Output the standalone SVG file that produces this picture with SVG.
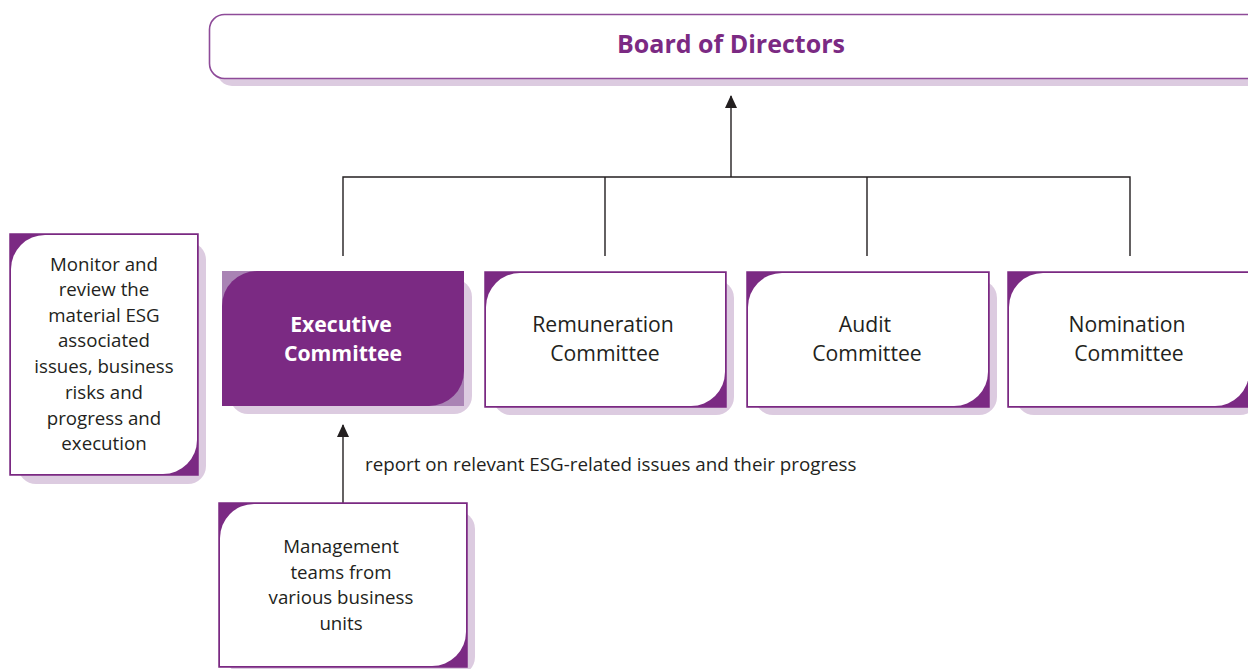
<svg xmlns="http://www.w3.org/2000/svg" width="1248" height="669" viewBox="0 0 1248 669">
  <style>
    .shadow { fill: #dccbe0; }
    .frame { fill: #7b2a83; stroke: #7b2a83; stroke-width: 1.5; }
    .card { fill: #ffffff; }
    .label { font-family: "Open Sans", "Liberation Sans", sans-serif; font-size: 21.2px; fill: #231f20; text-anchor: middle; }
    .note { font-family: "Open Sans", "Liberation Sans", sans-serif; font-size: 18.7px; fill: #231f20; text-anchor: middle; }
    .wire { fill: none; stroke: #231f20; stroke-width: 1.4; }
  </style>
  <defs>
    <marker id="arrow" viewBox="0 0 13 12" refX="12" refY="6" markerWidth="13" markerHeight="12" markerUnits="userSpaceOnUse" orient="auto">
      <path d="M0,0 L13,6 L0,12 Z" fill="#231f20"/>
    </marker>
  </defs>
  <rect width="1248" height="669" fill="#ffffff"/>

  <!-- Board of Directors -->
  <g id="board">
    <rect class="shadow" x="217" y="22" width="1060" height="64" rx="15"/>
    <rect x="209.5" y="14.5" width="1052" height="64" rx="15" fill="#ffffff" stroke="#8e4b99" stroke-width="1.6"/>
    <text x="731" y="53" font-family="Open Sans, Liberation Sans, sans-serif" font-size="25px" font-weight="bold" fill="#7b2a83" text-anchor="middle">Board of Directors</text>
  </g>

  <!-- connectors -->
  <g id="connectors">
    <path class="wire" d="M731,177 V96" marker-end="url(#arrow)"/>
    <path class="wire" d="M343,256 V177 H1130 V256 M605,177 V256 M867,177 V256"/>
    <path class="wire" d="M343,503 V425" marker-end="url(#arrow)"/>
    <text x="365" y="471" font-family="Open Sans, Liberation Sans, sans-serif" font-size="18.8px" fill="#231f20">report on relevant ESG-related issues and their progress</text>
  </g>

  <!-- Executive Committee -->
  <g id="executive">
    <rect class="shadow" x="230" y="279" width="242" height="135" rx="18"/>
    <rect x="222" y="271" width="242" height="135" fill="#a983b4"/>
    <path d="M257,271 H464 V371 A35,35 0 0 1 429,406 H222 V306 A35,35 0 0 1 257,271 Z" fill="#7b2a83"/>
    <text class="label" x="341" y="332" font-weight="bold" style="fill:#ffffff">Executive</text>
    <text class="label" x="343" y="361" font-weight="bold" style="fill:#ffffff">Committee</text>
  </g>

  <!-- Remuneration Committee -->
  <g id="remuneration">
    <rect class="shadow" x="493" y="280" width="241" height="135" rx="18"/>
    <rect class="frame" x="485" y="272" width="241" height="135"/>
    <path class="card" d="M520,273 H725 V372 A34,34 0 0 1 691,406 H486 V307 A34,34 0 0 1 520,273 Z"/>
    <text class="label" x="603" y="332">Remuneration</text>
    <text class="label" x="605" y="361">Committee</text>
  </g>

  <!-- Audit Committee -->
  <g id="audit">
    <rect class="shadow" x="755" y="280" width="242" height="135" rx="18"/>
    <rect class="frame" x="747" y="272" width="242" height="135"/>
    <path class="card" d="M782,273 H988 V372 A34,34 0 0 1 954,406 H748 V307 A34,34 0 0 1 782,273 Z"/>
    <text class="label" x="865" y="332">Audit</text>
    <text class="label" x="867" y="361">Committee</text>
  </g>

  <!-- Nomination Committee -->
  <g id="nomination">
    <rect class="shadow" x="1016" y="280" width="242" height="135" rx="18"/>
    <rect class="frame" x="1008" y="272" width="242" height="135"/>
    <path class="card" d="M1043,273 H1249 V372 A34,34 0 0 1 1215,406 H1009 V307 A34,34 0 0 1 1043,273 Z"/>
    <text class="label" x="1127" y="332">Nomination</text>
    <text class="label" x="1129" y="361">Committee</text>
  </g>

  <!-- Monitoring remit -->
  <g id="monitor">
    <rect class="shadow" x="18" y="242" width="188" height="242" rx="18"/>
    <rect class="frame" x="10" y="234" width="188" height="241"/>
    <path class="card" d="M45,235 H197 V440 A34,34 0 0 1 163,474 H11 V269 A34,34 0 0 1 45,235 Z"/>
    <text class="note" x="104" y="271">Monitor and</text>
    <text class="note" x="104" y="296">review the</text>
    <text class="note" x="104" y="322">material ESG</text>
    <text class="note" x="104" y="347">associated</text>
    <text class="note" x="104" y="373">issues, business</text>
    <text class="note" x="104" y="399">risks and</text>
    <text class="note" x="104" y="425">progress and</text>
    <text class="note" x="104" y="450">execution</text>
  </g>

  <!-- Management teams -->
  <g id="management">
    <rect class="shadow" x="227" y="511" width="248" height="164" rx="18"/>
    <rect class="frame" x="219" y="503" width="248" height="164"/>
    <path class="card" d="M254,504 H466 V632 A34,34 0 0 1 432,666 H220 V538 A34,34 0 0 1 254,504 Z"/>
    <text class="note" x="341" y="553">Management</text>
    <text class="note" x="341" y="579">teams from</text>
    <text class="note" x="341" y="604">various business</text>
    <text class="note" x="341" y="630">units</text>
  </g>
</svg>
